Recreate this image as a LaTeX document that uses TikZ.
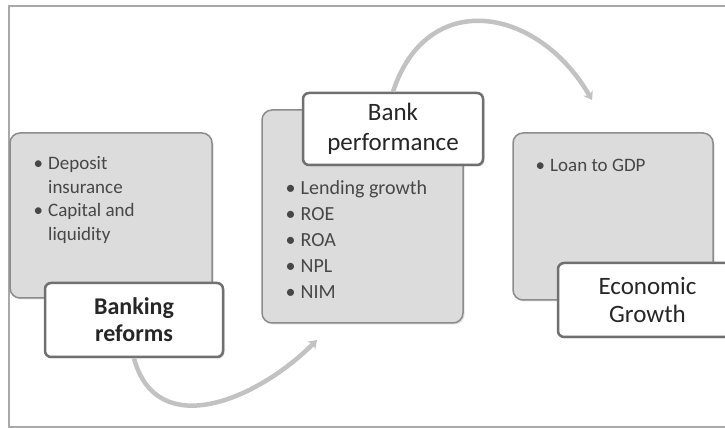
\documentclass[tikz,border=0pt]{standalone}
\usepackage{fontspec}
\setmainfont{Carlito}
\usepackage{xcolor}
\usepackage{tikz}
\usetikzlibrary{arrows.meta, positioning, shadows}

\definecolor{panelgrey}{HTML}{DCDCDC}
\definecolor{panelline}{HTML}{8C8C8C}
\definecolor{titleline}{HTML}{707070}
\definecolor{flowgrey}{HTML}{C2C2C2}
\definecolor{framegrey}{HTML}{A8A8A8}

\begin{document}
\begin{tikzpicture}[x=1pt, y=1pt, >=Stealth,
    panel/.style={draw=panelline, fill=panelgrey, line width=1.5pt, rounded corners=10pt,
      drop shadow={opacity=0.25, shadow xshift=1.5pt, shadow yshift=-1.5pt}},
    titlebox/.style={draw=titleline, fill=white, line width=2.5pt, rounded corners=6pt,
      align=center, inner sep=0pt, text=black!85,
      drop shadow={opacity=0.3, shadow xshift=1.5pt, shadow yshift=-1.5pt}},
    itemlist/.style={anchor=north west, align=left, inner sep=0pt, text=black!72},
    flow/.style={-{Stealth[length=8pt, width=11pt]}, line width=4.5pt, draw=flowgrey}]
    \useasboundingbox (0,0) rectangle (725,428);
    \draw[framegrey, line width=1.5pt] (9,1) rectangle (745,422);

    % Grey panels with the bullet lists
    \node[panel, minimum width=202pt, minimum height=165pt] (reformpanel) at (111,212.5) {};
    \node[panel, minimum width=201pt, minimum height=213pt] (perfpanel) at (362.5,211.5) {};
    \node[panel, minimum width=200pt, minimum height=167pt] (growthpanel) at (613,211.5) {};

    \node[itemlist, font=\fontsize{19}{23.5}\selectfont] (reformitems) at (33.5,275)
      {\begin{tabular}{@{}l@{\hspace{5pt}}l@{}}
        \textbullet & Deposit\\ & insurance\\
        \textbullet & Capital and\\ & liquidity
      \end{tabular}};
    \node[itemlist, font=\fontsize{20}{26}\selectfont] (perfitems) at (285.5,252)
      {\begin{tabular}{@{}l@{\hspace{5pt}}l@{}}
        \textbullet & Lending growth\\ \textbullet & ROE\\ \textbullet & ROA\\
        \textbullet & NPL\\ \textbullet & NIM
      \end{tabular}};
    \node[itemlist, font=\fontsize{19}{23.5}\selectfont] (growthitems) at (535.5,273)
      {\begin{tabular}{@{}l@{\hspace{5pt}}l@{}}
        \textbullet & Loan to GDP
      \end{tabular}};

    % White title boxes over the panels
    \node[titlebox, minimum width=178pt, minimum height=74pt,
      font=\fontsize{24}{27}\selectfont\bfseries] (reforms) at (134,108) {Banking\\reforms};
    \node[titlebox, minimum width=180pt, minimum height=72pt,
      font=\fontsize{25}{30}\selectfont] (bank) at (393,299) {Bank\\performance};
    \node[titlebox, minimum width=179pt, minimum height=74pt,
      font=\fontsize{25}{28}\selectfont] (growth) at (647.5,128) {Economic\\Growth};

    % Curved arrows between the stages
    \coordinate (perfin) at (317,88);
    \coordinate (growthin) at (592,328);
    \draw[flow] (reforms.south) to[out=-75, in=-135, looseness=1.2] (perfin);
    \draw[flow] (bank.north) to[out=72, in=120, looseness=1.4] (growthin);
\end{tikzpicture}
\end{document}
